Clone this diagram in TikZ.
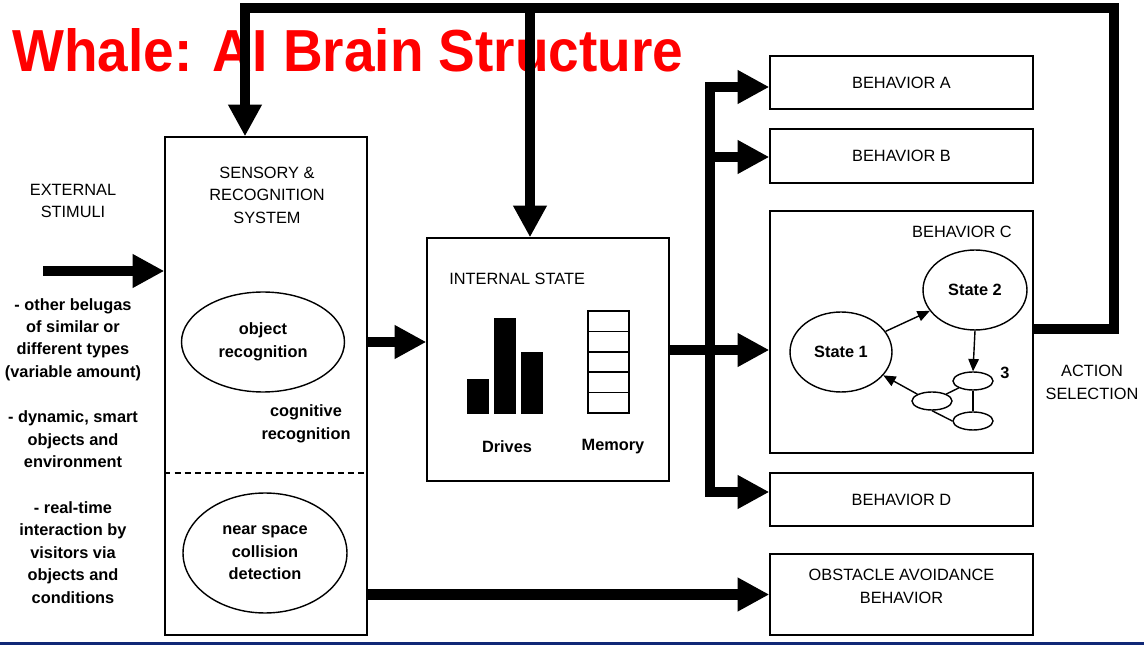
\documentclass[tikz,border=0pt]{standalone}
\usepackage{fontspec}
\setmainfont{Liberation Sans}
\usepackage{graphicx}
\usepackage{xcolor}
\usetikzlibrary{arrows.meta,shapes.geometric}
\definecolor{navybar}{RGB}{16,40,118}

\begin{document}
\begin{tikzpicture}[
			x=0.02cm, y=-0.02cm,
			font=\fontsize{9.3}{12.75}\selectfont,
			box/.style={draw, line width=0.8pt, minimum width=5.26cm, align=center, inner sep=0pt},
			lbl/.style={align=center, inner sep=0pt},
			lowtxt/.style={lbl, font=\fontsize{9.3}{12.75}\selectfont\bfseries},
			stnode/.style={draw, ellipse, line width=0.8pt, inner sep=0pt, align=center, font=\fontsize{9.3}{12.75}\selectfont\bfseries},
			small/.style={draw, ellipse, line width=0.8pt, inner sep=0pt, minimum width=0.8cm, minimum height=0.36cm},
			bigarrow/.style={line width=6pt, -{Triangle[length=18pt,width=18pt]}, line join=miter},
			bus/.style={line width=6pt, line cap=rect},
			thinarrow/.style={line width=0.8pt, -{Triangle[length=7pt,width=6pt]}},
			thinline/.style={line width=0.8pt}
			]
			\useasboundingbox (0,0) rectangle (1144,645);
			\fill[navybar] (0,642) rectangle (1144,645);
			\node[anchor=north west, inner sep=0pt, text=red] (title) at (12,28) {\resizebox{13.42cm}{0.86cm}{\bfseries Whale: AI Brain Structure}};
			\node[box, minimum width=4.04cm, minimum height=9.96cm] (sensory) at (266,386) {};
			\node[lbl] (senstitle) at (267,195) {SENSORY \&\\RECOGNITION\\SYSTEM};
			\node[stnode, minimum width=3.26cm, minimum height=2cm] (objrec) at (263,342) {object\\recognition};
			\node[lowtxt] (cogrec) at (306,424) {cognitive\\recognition};
			\coordinate (cut) at (0,473);
			\draw[line width=0.8pt, dash pattern=on 3.5pt off 2.3pt] (cut -| sensory.west) -- (cut -| sensory.east);
			\node[stnode, minimum width=3.28cm, minimum height=2.4cm] (nearsp) at (265,553) {near space\\collision\\detection};
			\node[lbl] (ext) at (73,201) {EXTERNAL\\STIMULI};
			\node[lowtxt] (txt1) at (73,339.5) {- other belugas\\of similar or\\different types\\(variable amount)};
			\node[lowtxt] (txt2) at (73,439.5) {- dynamic, smart\\objects and\\environment};
			\node[lowtxt] (txt3) at (73,552.5) {- real-time\\interaction by\\visitors via\\objects and\\conditions};
			\node[box, minimum width=4.84cm, minimum height=4.86cm] (internal) at (548,359.5) {};
			\node[lbl, anchor=west] (inttitle) at (449,279) {INTERNAL STATE};
			\foreach \x/\h in {467/379, 494/318, 521/352}
				\fill (\x,414) rectangle (\x+22,\h);
			\foreach \i in {0,...,4}
				\draw[thinline] (588,311+20.4*\i) rectangle (629,331.4+20.4*\i);
			\node[lowtxt] (drives) at (507,447) {Drives};
			\node[lowtxt] (memory) at (613,447) {Memory};
			\node[box, minimum height=1.06cm] (behA) at (901.5,82.5) {BEHAVIOR A};
			\node[box, minimum height=1.08cm] (behB) at (901.5,156) {BEHAVIOR B};
			\node[box, minimum height=4.84cm] (behC) at (901.5,332) {};
			\node[box, minimum height=1.06cm] (behD) at (901.5,499.5) {BEHAVIOR D};
			\node[box, minimum height=1.62cm] (obst) at (901.5,594.5) {};
			\node[lbl] (obsttxt) at (901.5,586.5) {OBSTACLE AVOIDANCE\\BEHAVIOR};
			\node[lbl] (behCtitle) at (962,232) {BEHAVIOR C};
			\node[stnode, minimum width=2.04cm, minimum height=1.6cm] (state1) at (841,352) {State 1};
			\node[stnode, minimum width=2.08cm, minimum height=1.6cm] (state2) at (975,290) {State 2};
			\node[small] (s3a) at (973,381) {};
			\node[small] (s3b) at (932,401) {};
			\node[small] (s3c) at (973,421) {};
			\node[lowtxt] (three) at (1005,373) {3};
			\node[lbl] (action) at (1092,382.5) {ACTION\\SELECTION};
			\draw[thinarrow] (state1) -- (state2);
			\draw[thinarrow] (state2.south) -- (s3a.north);
			\draw[thinline] (s3a) -- (s3c);
			\draw[thinline] (s3b) -- (s3a);
			\draw[thinline] (s3b.south) -- (s3c.west);
			\draw[thinarrow] (s3b.155) -- (state1);
			\coordinate (stim) at (43,271);
			\coordinate (busA) at (710,87);
			\coordinate (busB) at (710,157);
			\coordinate (busC) at (710,350);
			\coordinate (busD) at (710,492);
			\coordinate (fbC) at (1114,329);
			\coordinate (fbR) at (1114,8);
			\coordinate (fbL) at (245,8);
			\coordinate (fbM) at (530,8);
			\draw[bigarrow] (stim) -- (stim -| sensory.west);
			\draw[bigarrow] (objrec -| sensory.east) -- (objrec -| internal.west);
			\draw[bigarrow] (obst.west -| sensory.east) -- (obst.west);
			\draw[bus] (busA) -- (busD);
			\draw[bigarrow] (busA) -- (busA -| behA.west);
			\draw[bigarrow] (busB) -- (busB -| behB.west);
			\draw[bigarrow] (busC -| internal.east) -- (busC -| behC.west);
			\draw[bigarrow] (busD) -- (busD -| behD.west);
			\draw[bigarrow] (fbC -| behC.east) -- (fbC) -- (fbR) -- (fbL) -- (fbL |- sensory.north);
			\draw[bigarrow] (fbM) -- (fbM |- internal.north);
		\end{tikzpicture}
\end{document}
